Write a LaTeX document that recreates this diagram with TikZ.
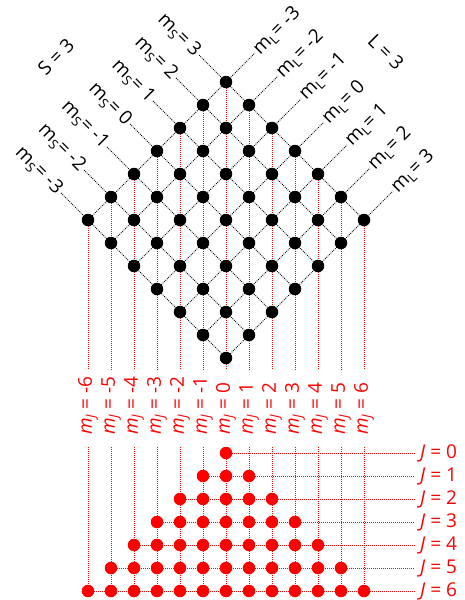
\documentclass[tikz,border=0pt]{standalone}
\usepackage{fontspec}
\setmainfont{Open Sans}
\pgfdeclarelayer{background}
\pgfsetlayers{background,main}
\begin{document}
\begin{tikzpicture}[x=1pt,y=-1pt,
  bdot/.style={circle,fill=black,inner sep=0pt,minimum size=12.5pt},
  rdot/.style={circle,fill=red,inner sep=0pt,minimum size=12.5pt},
  bline/.style={black,line width=0.8pt,dash pattern=on 0.9pt off 1.1pt},
  rline/.style={red,line width=1pt,dash pattern=on 1pt off 1pt},
  blab/.style={font=\fontsize{19}{19}\selectfont,inner sep=2pt},
  rlab/.style={text=red,font=\fontsize{19}{19}\selectfont,inner sep=2pt}]
\useasboundingbox (0,0) rectangle (464,600);

% coupled states (m_S, m_L) on the rotated grid
\foreach \i in {0,...,6}{
  \foreach \k in {0,...,6}{
    \node[bdot] (d\i\k) at ({226+23*(\i+\k-6)},{220+23*(\k-\i)}) {};
  }
}

% free ends of the m_S and m_L lines
\foreach \i in {0,...,6}{
  \coordinate (es\i) at ({226+23*(\i-6)-27},{220-23*\i-27});
  \coordinate (el\i) at ({226+23*\i+29},{220+23*(\i-6)-29});
}

\begin{pgfonlayer}{background}
  \foreach \i in {0,...,6}{
    \draw[bline] (es\i) -- (d\i6.center);
    \draw[bline] (d0\i.center) -- (el\i);
  }
  % projections onto m_J
  \foreach \c in {0,...,12}{
    \pgfmathtruncatemacro\ci{min(\c,6)}
    \pgfmathtruncatemacro\ck{max(\c-6,0)}
    \coordinate (ub\c) at ({226+23*(\c-6)},370);
    \draw[rline] (d\ci\ck.center) -- (ub\c);
  }
\end{pgfonlayer}

% labels of the grid lines
\foreach \i in {0,...,6}{
  \pgfmathtruncatemacro\v{\i-3}
  \node[blab,rotate=-45,anchor=east] (ls\i) at (es\i) {m\textsubscript{S}= \v};
  \node[blab,rotate=45,anchor=west] (ll\i) at (el\i) {m\textsubscript{L}= \v};
}
\node[blab,rotate=45] (Slab) at (56,57) {S = 3};
\node[blab,rotate=-45] (Llab) at (386,52) {L = 3};

% m_J labels
\foreach \c in {0,...,12}{
  \pgfmathtruncatemacro\v{\c-6}
  \node[rlab,rotate=90,anchor=west] (mj\c) at ({226+23*(\c-6)},437)
    {\textit{m}\textsubscript{\textit{J}} = \v};
}

% J multiplets
\foreach \J in {0,...,6}{
  \foreach \c in {0,...,12}{
    \pgfmathtruncatemacro\ok{abs(\c-6)<=\J}
    \ifnum\ok=1
      \node[rdot] (r\J-\c) at ({226+23*(\c-6)},{453+23*\J}) {};
    \fi
  }
  \coordinate (h\J) at (415,{453+23*\J});
  \node[rlab,anchor=west,inner sep=0pt] (jl\J) at (420,{453+23*\J}) {\textit{J} = \J};
}

\begin{pgfonlayer}{background}
  \foreach \c in {0,...,12}{
    \coordinate (vt\c) at ({226+23*(\c-6)},447);
    \draw[rline] (vt\c) -- (r6-\c.center);
  }
  \foreach \J in {0,...,6}{
    \pgfmathtruncatemacro\c{6-\J}
    \draw[rline] (r\J-\c.center) -- (h\J);
  }
\end{pgfonlayer}
\end{tikzpicture}
\end{document}
